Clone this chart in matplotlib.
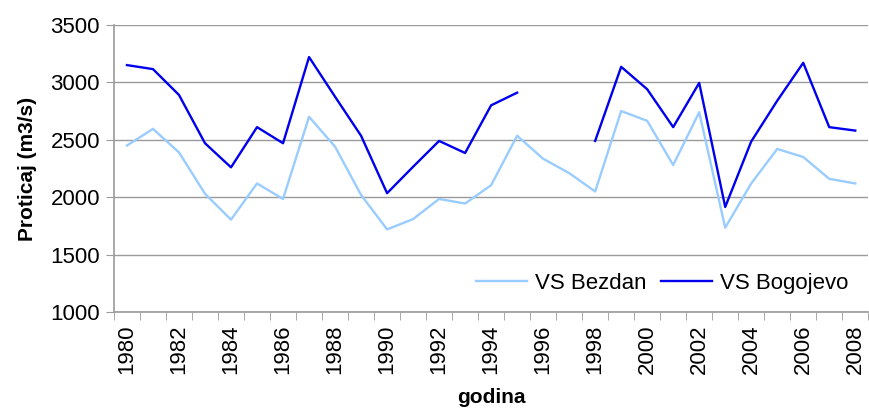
import matplotlib as mpl
mpl.use('Agg')
import matplotlib.pyplot as plt
import numpy as np

years = list(range(1980, 2009))
bezdan = [2450, 2595, 2390, 2030, 1805, 2120, 1985, 2700, 2440, 2020,
          1720, 1810, 1985, 1945, 2105, 2535, 2335, 2210, 2050, 2750,
          2665, 2280, 2740, 1735, 2120, 2420, 2350, 2160, 2120]
bogojevo = [3150, 3115, 2890, 2470, 2260, 2610, 2470, 3220, 2875, 2535,
            2035, 2265, 2490, 2385, 2800, 2910, None, None, 2490, 3135,
            2940, 2610, 2995, 1915, 2485, 2840, 3170, 2610, 2580]

plt.rcParams['font.family'] = ['Liberation Sans', 'DejaVu Sans']

grid_col = '#9a9a9a'
fig = plt.figure(figsize=(8.7, 4.08), dpi=100)
ax = fig.add_axes([0.131, 0.235, 0.867, 0.704])

x = np.arange(len(years))
bog = np.array([np.nan if v is None else v for v in bogojevo], dtype=float)
ax.plot(x, bezdan, color='#99ccff', lw=1.7, label='VS Bezdan')
ax.plot(x, bog, color='#0000ee', lw=1.7, label='VS Bogojevo')

ax.set_xlim(-0.5, len(years) - 0.5)
ax.set_ylim(1000, 3500)
ax.set_yticks(range(1000, 3501, 500))
ax.yaxis.grid(True, color=grid_col, lw=1)
ax.set_axisbelow(True)

# category axis: marks between categories, labels every second year
ax.set_xticks(x[::2])
ax.set_xticklabels([str(y) for y in years[::2]], rotation=90)
ax.set_xticks(np.arange(-0.5, len(years), 1), minor=True)
ax.tick_params(axis='x', which='major', length=0, pad=9, labelsize=16)
ax.tick_params(axis='x', which='minor', length=6, color=grid_col, direction='out')
ax.tick_params(axis='y', length=6, color=grid_col, labelsize=16, pad=4)

for s in ['top', 'right']:
    ax.spines[s].set_visible(False)
for s in ['left', 'bottom']:
    ax.spines[s].set_color(grid_col)
    ax.spines[s].set_linewidth(1.2)

ax.set_ylabel('Proticaj (m3/s)', fontsize=15, fontweight='bold', labelpad=10)
ax.set_xlabel('godina', fontsize=15, fontweight='bold', labelpad=10)

ax.legend(loc='lower right', ncol=2, frameon=False, fontsize=16,
          handlelength=2.3, handletextpad=0.35, columnspacing=0.65,
          bbox_to_anchor=(1.0, -0.005))

fig.savefig('out.png', dpi=100)
